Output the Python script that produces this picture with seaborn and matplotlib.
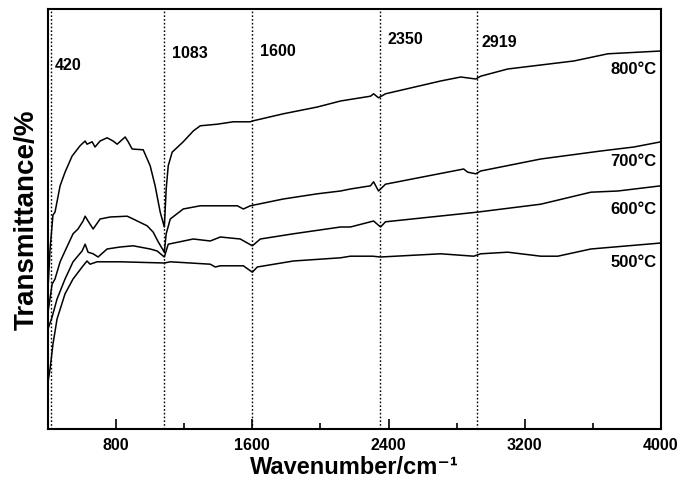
import numpy as np
import pandas as pd
import matplotlib
matplotlib.use("Agg")
import matplotlib.pyplot as plt
import seaborn as sns
from matplotlib.ticker import MultipleLocator

# wavenumber (cm-1) and transmittance (arb. %)
wn_800 = [400, 412, 429, 441, 471, 500, 541, 588, 618, 629, 659, 676, 706, 747,
          782, 806, 853, 871, 894, 959, 1000, 1029, 1059, 1083, 1094, 1106,
          1129, 1194, 1253, 1294, 1394, 1488, 1588, 1600, 1782, 1982, 2118,
          2294, 2312, 2341, 2382, 2706, 2824, 2912, 2941, 3100, 3488, 3688, 4000]
t_800 = [35, 45, 53.5, 54.2, 60.8, 64.2, 68.2, 70.8, 72, 71.2, 71.8, 70.5, 72,
         72.8, 72, 71.2, 73, 71.8, 70, 69.8, 65.8, 60.8, 54.2, 50.5, 60, 65.8,
         69.2, 71.8, 74.5, 75.8, 76.2, 76.8, 76.8, 77, 78.8, 80.5, 82, 83.2,
         83.8, 82.8, 83.8, 87, 88, 87.5, 88.2, 90, 92, 93.8, 94.5]

wn_700 = [400, 424, 441, 471, 500, 547, 576, 606, 618, 635, 665, 706, 765, 865,
          900, 982, 1018, 1047, 1083, 1094, 1118, 1194, 1294, 1394, 1512, 1547,
          1588, 1782, 1982, 2118, 2176, 2294, 2312, 2341, 2382, 2841, 2865,
          2912, 2941, 3294, 3647, 3841, 4000]
t_700 = [29.2, 36.2, 37.5, 41.8, 44.5, 48.8, 50, 52, 53.2, 52, 50, 52.5, 53,
         53.2, 52.5, 50.8, 49.2, 46.8, 44.2, 48.8, 52.5, 55, 55.8, 55.8, 55.8,
         55, 55.8, 57.5, 58.8, 59.5, 60, 60.8, 61.8, 59.5, 61.2, 65, 64.2,
         63.8, 64.5, 67.5, 69.5, 70.5, 71.8]

wn_600 = [400, 424, 453, 500, 547, 600, 618, 635, 665, 694, 747, 824, 900,
          1000, 1041, 1083, 1106, 1253, 1353, 1412, 1529, 1600, 1647, 1841,
          2118, 2176, 2294, 2312, 2353, 2382, 2918, 3294, 3588, 3747, 4000]
t_600 = [25, 28, 32.5, 37.5, 41.8, 44.5, 46.2, 44.2, 43.8, 43, 45, 45.5, 45.8,
         45, 44.5, 43, 46.2, 47.5, 47, 48, 47.5, 45.8, 47.5, 48.8, 50.5, 50.5,
         51.8, 52, 50.5, 51.8, 54.2, 56.2, 59.2, 59.5, 60.8]

wn_500 = [400, 412, 429, 453, 500, 547, 606, 629, 647, 688, 824, 1083, 1118,
          1353, 1382, 1412, 1547, 1600, 1629, 1841, 2118, 2176, 2306, 2353,
          2706, 2900, 2941, 3100, 3294, 3394, 3588, 4000]
t_500 = [11.8, 15, 21.2, 27.5, 33.8, 37.5, 40.8, 42, 41.2, 41.8, 41.8, 41.5,
         41.8, 41.2, 40.5, 40.8, 40.8, 39.2, 40.5, 42, 42.8, 43.2, 43.2, 43,
         43.8, 43.2, 43.8, 44.2, 43.2, 43.2, 45, 46.5]

temps = ["800°C", "700°C", "600°C", "500°C"]
label_y = [90, 67, 55, 41.8]

peaks = [420, 1083, 1600, 2350, 2919]
peak_text_x = [441, 1129, 1647, 2394, 2947]
peak_text_y = [91.2, 94.2, 94.5, 97.5, 96.8]

sns.set_theme(style="ticks")
plt.rcParams["font.family"] = ["Liberation Sans", "DejaVu Sans"]
plt.rcParams["text.color"] = "black"
plt.rcParams["axes.labelcolor"] = "black"
plt.rcParams["xtick.color"] = "black"

fig = plt.figure(figsize=(6.83, 4.85), dpi=100)
ax = fig.add_axes([0.0703, 0.1134, 0.8975, 0.8660])

for wn, t in [(wn_800, t_800), (wn_700, t_700), (wn_600, t_600), (wn_500, t_500)]:
    sns.lineplot(x=wn, y=t, color="black", linewidth=1.1, ax=ax)

for p in peaks:
    ax.axvline(p, color="black", linestyle=(0, (1.2, 1.5)), linewidth=1.0)

for p, tx, ty in zip(peaks, peak_text_x, peak_text_y):
    ax.text(tx, ty, str(p), fontsize=11.5, fontweight="bold", ha="left", va="center")

for lab, ly in zip(temps, label_y):
    ax.text(3975, ly, lab, fontsize=12, fontweight="bold", ha="right", va="center")

ax.set_xlim(400, 4000)
ax.set_ylim(0, 105)
ax.xaxis.set_minor_locator(MultipleLocator(400))
ax.set_xticks([800, 1600, 2400, 3200, 4000])
ax.tick_params(axis="x", which="major", direction="in", length=7, width=1.2,
               labelsize=11.5, top=False, pad=6)
ax.tick_params(axis="x", which="minor", direction="in", length=4, width=1.2, top=False)
ax.set_yticks([])
for lbl in ax.get_xticklabels():
    lbl.set_fontweight("bold")
for s in ax.spines.values():
    s.set_linewidth(1.5)
    s.set_color("black")

ax.set_xlabel("Wavenumber/cm\u207b\u00b9", fontsize=17, fontweight="bold", labelpad=2)
ax.set_ylabel("Transmittance/%", fontsize=20, fontweight="bold", labelpad=6)

fig.savefig("out.png", dpi=100)
